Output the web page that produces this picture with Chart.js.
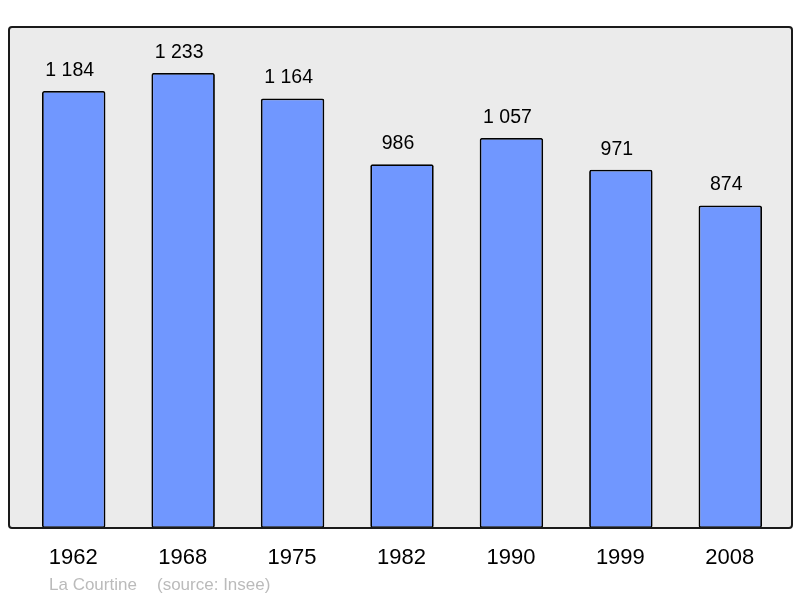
<!DOCTYPE html>
<html><head><meta charset="utf-8">
<script src="https://cdn.jsdelivr.net/npm/chart.js@4/dist/chart.umd.min.js"></script>
<style>html,body{margin:0;padding:0;background:#fff}#c{display:block}</style>
</head><body>
<canvas id="c" width="800" height="598"></canvas>
<script>
const years = ["1962","1968","1975","1982","1990","1999","2008"];
const population = [1184,1233,1164,986,1057,971,874];
const valueLabels = ["1 184","1 233","1 164","986","1 057","971","874"];
const footerPlace = "La Courtine";
const footerSource = "(source: Insee)";

const FONT = '"Liberation Sans", Arial, sans-serif';
function rr(ctx,x,y,w,h,r){ctx.beginPath();ctx.moveTo(x+r,y);ctx.lineTo(x+w-r,y);ctx.quadraticCurveTo(x+w,y,x+w,y+r);ctx.lineTo(x+w,y+h-r);ctx.quadraticCurveTo(x+w,y+h,x+w-r,y+h);ctx.lineTo(x+r,y+h);ctx.quadraticCurveTo(x,y+h,x,y+h-r);ctx.lineTo(x,y+r);ctx.quadraticCurveTo(x,y,x+r,y);ctx.closePath();}
const frame = {
  id:'frame',
  beforeDatasetsDraw(chart){
    const ctx=chart.ctx; ctx.save();
    rr(ctx,9,27,783,501,3); ctx.fillStyle='#ebebeb'; ctx.fill(); ctx.restore();
  },
  afterDatasetsDraw(chart){
    const ctx=chart.ctx; ctx.save();
    rr(ctx,9,27,783,501,3); ctx.lineWidth=2; ctx.strokeStyle='#1a1a1a'; ctx.stroke();
    const xs=chart.scales.x, ys=chart.scales.y;
    ctx.fillStyle='#000'; ctx.textAlign='center'; ctx.textBaseline='middle';
    ctx.font='19.5px '+FONT;
    population.forEach((v,i)=>{ ctx.fillText(valueLabels[i], xs.getPixelForValue(i)-4, ys.getPixelForValue(v)-20.5); });
    ctx.font='22px '+FONT;
    years.forEach((y,i)=>{ ctx.fillText(y, xs.getPixelForValue(i)-0.5, 557.5); });
    ctx.fillStyle='#bbbbbb'; ctx.font='17px '+FONT; ctx.textAlign='left';
    ctx.fillText(footerPlace, 49, 585);
    ctx.fillText(footerSource, 157, 585);
    ctx.restore();
  }
};
new Chart(document.getElementById('c'),{
  type:'bar',
  data:{labels:years,datasets:[{data:population,backgroundColor:'#7097ff',borderColor:'#000',borderWidth:1.8,borderRadius:2,borderSkipped:false,categoryPercentage:1,barPercentage:0.58}]},
  options:{
    responsive:false,animation:false,
    layout:{padding:{left:19,right:15,top:27,bottom:70}},
    plugins:{legend:{display:false},tooltip:{enabled:false}},
    scales:{
      x:{display:false,offset:true},
      y:{display:false,min:0,max:1357.6}
    }
  },
  plugins:[frame]
});
</script>
</body></html>
